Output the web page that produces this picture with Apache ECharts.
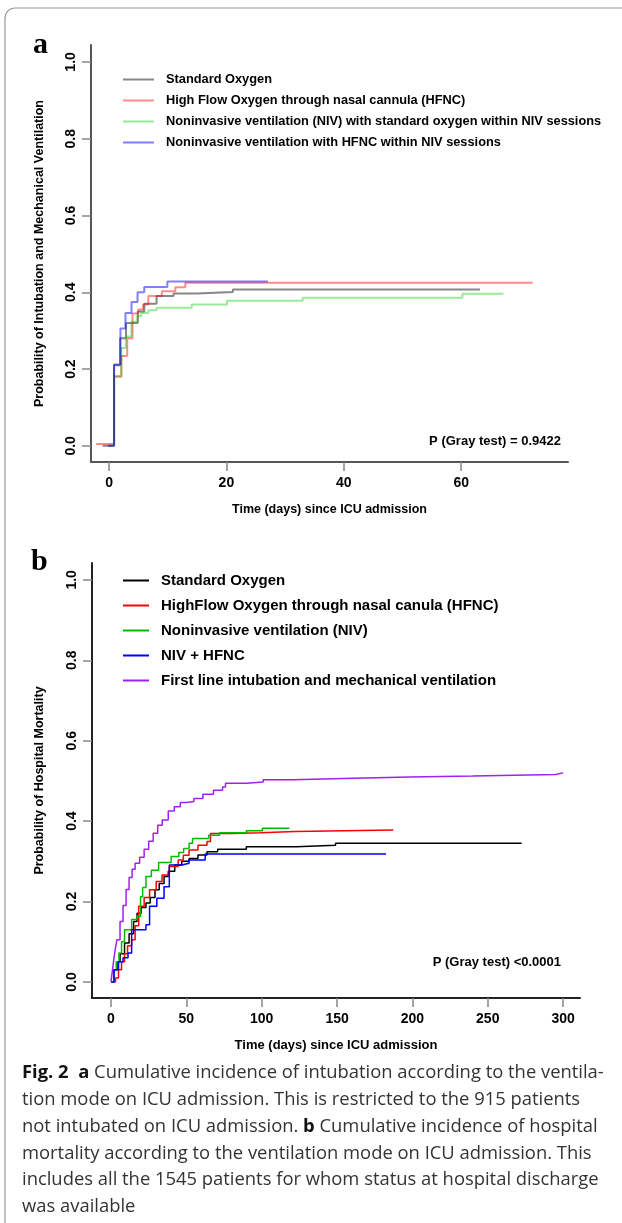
<!DOCTYPE html>
<html>
<head>
<meta charset="utf-8">
<script src="https://cdn.jsdelivr.net/npm/echarts@6/dist/echarts.min.js"></script>
<style>
  html, body { margin: 0; padding: 0; background: #fff; }
  #main { width: 622px; height: 1223px; }
</style>
</head>
<body>
<div id="main"></div>
<script>
// ---- panel a: cumulative incidence of intubation (days, probability) ----
const aStdDays = [-1.1, 0.86, 1.9, 2.9, 4.9, 6.0, 8.1, 11, 15, 21.1, 63.2];
const aStdProb = [0, 0.21, 0.28, 0.32, 0.35, 0.37, 0.39, 0.397, 0.401, 0.407, 0.407];
const aHfncDays = [-2.2, 0.86, 2.1, 3.1, 4.0, 5.0, 5.8, 6.7, 9.0, 11.3, 13, 72.2];
const aHfncProb = [0.005, 0.18, 0.234, 0.28, 0.345, 0.355, 0.368, 0.39, 0.403, 0.413, 0.425, 0.425];
const aNivDays = [0, 0.86, 2.1, 2.86, 3.83, 4.86, 5.5, 6.7, 8.1, 14.1, 20.1, 33, 60.2, 67.2];
const aNivProb = [0, 0.182, 0.255, 0.285, 0.323, 0.338, 0.346, 0.353, 0.36, 0.368, 0.378, 0.386, 0.396, 0.396];
const aNivHfncDays = [-0.2, 0.86, 1.94, 2.8, 3.83, 4.86, 6.0, 9.94, 27.1];
const aNivHfncProb = [0, 0.212, 0.306, 0.346, 0.375, 0.40, 0.414, 0.428, 0.428];

// ---- panel b: cumulative incidence of hospital mortality ----
const bStdDays = [0, 2, 4, 6, 9, 12, 15, 17.3, 20, 23.2, 26, 29.2, 32, 35.2, 38, 42.3, 47, 51.8, 57.7, 63.7, 70.8, 89.8, 123, 149, 272.5];
const bStdProb = [0, 0.03, 0.05, 0.07, 0.097, 0.12, 0.15, 0.171, 0.185, 0.196, 0.21, 0.229, 0.245, 0.262, 0.275, 0.291, 0.30, 0.307, 0.316, 0.324, 0.33, 0.336, 0.34, 0.345, 0.345];
const bHfncDays = [0, 3, 5, 7, 9, 11, 13.7, 16, 18.4, 22, 25.6, 30, 33.9, 38.7, 44.6, 48, 51.8, 57.7, 63.7, 66, 80.3, 99.3, 122, 187.3];
const bHfncProb = [0, 0.01, 0.03, 0.05, 0.07, 0.09, 0.105, 0.14, 0.188, 0.21, 0.229, 0.25, 0.266, 0.287, 0.303, 0.315, 0.328, 0.34, 0.349, 0.369, 0.371, 0.374, 0.378, 0.378];
const bNivDays = [0, 2, 3.5, 5.3, 7, 9, 13.7, 17.3, 19.6, 21, 23.2, 26.8, 31.6, 39.9, 45, 48.2, 51.8, 54.1, 64.8, 72, 89.8, 100.5, 118.4];
const bNivProb = [0, 0.03, 0.05, 0.072, 0.1, 0.13, 0.155, 0.163, 0.212, 0.235, 0.262, 0.278, 0.297, 0.312, 0.322, 0.332, 0.345, 0.357, 0.365, 0.371, 0.376, 0.382, 0.382];
const bNivHfncDays = [0, 2, 5, 8, 11.3, 13.7, 23.2, 25.6, 30.4, 35.2, 38.7, 47, 51.8, 62.5, 182.5];
const bNivHfncProb = [0, 0.03, 0.05, 0.06, 0.072, 0.13, 0.142, 0.188, 0.208, 0.237, 0.291, 0.295, 0.303, 0.318, 0.318];
const bIntubDays = [0, 1, 2, 3, 4, 6, 8, 10, 12, 14, 16, 19, 22, 25, 28, 31, 34, 38, 42, 46, 50, 55, 61, 68, 74, 76, 90, 101, 121, 154, 198, 240, 295, 300];
const bIntubProb = [0, 0.03, 0.06, 0.085, 0.105, 0.15, 0.19, 0.23, 0.26, 0.28, 0.295, 0.31, 0.33, 0.35, 0.37, 0.39, 0.403, 0.425, 0.436, 0.446, 0.449, 0.456, 0.467, 0.477, 0.485, 0.494, 0.497, 0.503, 0.506, 0.51, 0.512, 0.516, 0.52, 0.52];

const aNames = [
  'Standard Oxygen',
  'High Flow Oxygen through nasal cannula (HFNC)',
  'Noninvasive ventilation (NIV) with standard oxygen within NIV sessions',
  'Noninvasive ventilation with HFNC within NIV sessions'
];
const bNames = [
  'Standard Oxygen ',
  'HighFlow Oxygen through nasal canula (HFNC)',
  'Noninvasive ventilation (NIV)',
  'NIV + HFNC',
  'First line intubation and mechanical ventilation'
];
const aColors = ['rgba(70,70,70,0.65)', 'rgba(255,0,0,0.45)', 'rgba(0,200,0,0.4)', 'rgba(0,0,255,0.5)'];
const bColors = ['#000000', '#ff0000', '#00bb00', '#0000ff', '#a020f0'];

const aTicksX = [0, 20, 40, 60];
const bTicksX = [0, 50, 100, 150, 200, 250, 300];
const ticksY = [0, 0.2, 0.4, 0.6, 0.8, 1.0];

const caption = [
  '{b|Fig. 2}  {b|a} Cumulative incidence of intubation according to the ventila-',
  'tion mode on ICU admission. This is restricted to the 915 patients',
  'not intubated on ICU admission. {b|b} Cumulative incidence of hospital',
  'mortality according to the ventilation mode on ICU admission. This',
  'includes all the 1545 patients for whom status at hospital discharge',
  'was available'
];

const zip = (xs, ys) => xs.map((x, i) => [x, ys[i]]);

const aData = [
  zip(aStdDays, aStdProb),
  zip(aHfncDays, aHfncProb),
  zip(aNivDays, aNivProb),
  zip(aNivHfncDays, aNivHfncProb)
];
const bData = [
  zip(bStdDays, bStdProb),
  zip(bHfncDays, bHfncProb),
  zip(bNivDays, bNivProb),
  zip(bNivHfncDays, bNivHfncProb),
  zip(bIntubDays, bIntubProb)
];

const sans = 'Liberation Sans, Arial, sans-serif';
const tickFont = { fontFamily: sans, fontWeight: 'bold', fontSize: 14, color: '#000' };

function xAxisOf(grid, min, max, ticks, axisColor, title, size) {
  return {
    type: 'value', gridIndex: grid, min: min, max: max,
    axisLine: { show: true, onZero: false, lineStyle: { color: axisColor, width: 2 } },
    axisTick: { show: true, length: 9, customValues: ticks, lineStyle: { color: '#888', width: 1.5 } },
    axisLabel: Object.assign({ customValues: ticks, margin: 14 }, tickFont),
    splitLine: { show: false },
    name: title, nameLocation: 'middle', nameGap: 41,
    nameTextStyle: { fontFamily: sans, fontWeight: 'bold', fontSize: size, color: '#000' }
  };
}
function yAxisOf(grid, min, max, axisColor, title, gap) {
  return {
    type: 'value', gridIndex: grid, min: min, max: max,
    axisLine: { show: true, onZero: false, lineStyle: { color: axisColor, width: 2 } },
    axisTick: { show: true, length: 9, customValues: ticksY, lineStyle: { color: '#888', width: 1.5 } },
    axisLabel: Object.assign({ customValues: ticksY, rotate: 90, margin: 13, formatter: v => v.toFixed(1) }, tickFont),
    splitLine: { show: false },
    name: title, nameLocation: 'middle', nameGap: gap, nameRotate: 90,
    nameTextStyle: { fontFamily: sans, fontWeight: 'bold', fontSize: 12.5, color: '#000' }
  };
}

const series = [];
aData.forEach((d, i) => {
  series.push({
    name: aNames[i], type: 'line', step: 'end', symbol: 'none',
    xAxisIndex: 0, yAxisIndex: 0, data: d,
    lineStyle: { color: aColors[i], width: 2 }, itemStyle: { color: aColors[i] }
  });
});
bData.forEach((d, i) => {
  series.push({
    name: bNames[i], type: 'line', step: 'end', symbol: 'none',
    xAxisIndex: 1, yAxisIndex: 1, data: d,
    lineStyle: { color: bColors[i], width: 1.5 }, itemStyle: { color: bColors[i] }
  });
});

const legendText = (size, lh) => ({
  fontFamily: sans, fontWeight: 'bold',
  fontSize: size, lineHeight: lh, color: '#000', padding: [0, 0, 0, 7]
});

const chart = echarts.init(document.getElementById('main'), null, { renderer: 'canvas' });
chart.setOption({
  animation: false,
  backgroundColor: '#fff',
  grid: [
    { left: 91, top: 45, width: 477, height: 417, containLabel: false },
    { left: 92, top: 563, width: 488, height: 435, containLabel: false }
  ],
  xAxis: [
    xAxisOf(0, -3.07, 78.2, aTicksX, '#555', 'Time (days) since ICU admission', 12.5),
    xAxisOf(1, -12.6, 311.2, bTicksX, '#222', 'Time (days) since ICU admission', 13)
  ],
  yAxis: [
    yAxisOf(0, -0.042, 1.044, '#555', 'Probability of Intubation and Mechanical Ventilation', 45),
    yAxisOf(1, -0.04, 1.042, '#222', 'Probability of Hospital Mortality', 46)
  ],
  legend: [
    {
      orient: 'vertical', left: 123, top: 73, padding: 0, itemWidth: 31, itemHeight: 2, itemGap: 8,
      icon: 'rect', selectedMode: false,
      data: aNames.map((n, i) => ({ name: n, itemStyle: { color: aColors[i] } })),
      textStyle: legendText(12.8, 13)
    },
    {
      orient: 'vertical', left: 123, top: 573, padding: 0, itemWidth: 26, itemHeight: 2, itemGap: 10,
      icon: 'rect', selectedMode: false,
      data: bNames.map((n, i) => ({ name: n, itemStyle: { color: bColors[i] } })),
      textStyle: legendText(15, 14)
    }
  ],
  series: series,
  graphic: [
    { type: 'rect', shape: { x: 5, y: 8, width: 700, height: 1300, r: 10 }, silent: true,
      style: { fill: 'none', stroke: '#999', lineWidth: 1.2 } },
    { type: 'text', left: 33, top: 30, silent: true,
      style: { text: 'a', font: 'bold 30px "Liberation Serif", "Times New Roman", serif', fill: '#000' } },
    { type: 'text', left: 31, top: 547, silent: true,
      style: { text: 'b', font: 'bold 30px "Liberation Serif", "Times New Roman", serif', fill: '#000' } },
    { type: 'text', x: 561, y: 441, silent: true,
      style: { text: 'P (Gray test) = 0.9422', align: 'right', verticalAlign: 'middle',
        font: 'bold 13px "Liberation Sans", Arial, sans-serif', fill: '#000' } },
    { type: 'text', x: 561, y: 962, silent: true,
      style: { text: 'P (Gray test) <0.0001', align: 'right', verticalAlign: 'middle',
        font: 'bold 13px "Liberation Sans", Arial, sans-serif', fill: '#000' } }
  ].concat(caption.map((line, i) => ({
    type: 'text', x: 22, y: 1073 + i * 26.8, silent: true,
    style: {
      text: line, verticalAlign: 'middle', fill: '#333',
      font: '18.4px "Open Sans", "Liberation Sans", sans-serif',
      rich: { b: { fontWeight: 'bold', fontSize: 18.4, fontFamily: 'Open Sans, Liberation Sans, sans-serif', fill: '#111' } }
    }
  })))
});
</script>
</body>
</html>
